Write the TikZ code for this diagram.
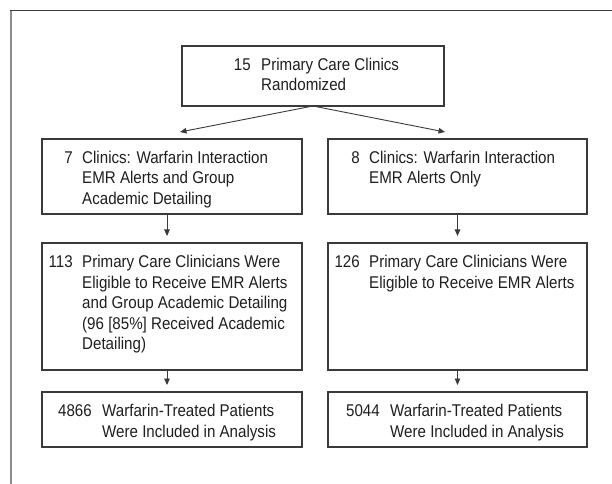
\documentclass[tikz,border=0pt]{standalone}
\usepackage{fontspec}
\setmainfont{Liberation Sans}[FakeStretch=0.89]
\usetikzlibrary{arrows.meta}
\definecolor{boxc}{HTML}{3A3A3A}
\definecolor{framegray}{HTML}{8C8C8C}
\newcommand{\lines}[1]{\begin{tabular}[t]{@{}l@{}}#1\end{tabular}}
\begin{document}
\begin{tikzpicture}[x=1bp,y=-1bp,
  box/.style={draw=boxc, line width=1.1bp, inner sep=0pt, outer sep=0pt},
  txt/.style={inner sep=0pt, anchor=base west, text=black!88, font=\fontsize{17bp}{20.5bp}\selectfont},
  num/.style={inner sep=0pt, anchor=base east, text=black!88, font=\fontsize{17bp}{20.5bp}\selectfont},
  arr/.style={draw=boxc, line width=0.9bp, -{Triangle[length=6.5bp,width=5.5bp]}}]
\useasboundingbox (0,0) rectangle (612,484);
\fill[white] (0,0) rectangle (612,484);
% frame (cropped)
\draw[framegray, line width=2bp] (11,10.5) -- (11,484);
\draw[boxc, line width=1.4bp] (10,10.5) -- (612,10.5);
% boxes
\node[box, minimum width=262bp, minimum height=60bp] (top) at (313,76) {};
\node[box, minimum width=260bp, minimum height=75bp] (L2) at (172,176.5) {};
\node[box, minimum width=259bp, minimum height=75bp] (R2) at (457.5,176.5) {};
\node[box, minimum width=260bp, minimum height=127bp] (L3) at (172,306.5) {};
\node[box, minimum width=259bp, minimum height=127bp] (R3) at (457.5,306.5) {};
\node[box, minimum width=260bp, minimum height=55bp] (L4) at (172,419.5) {};
\node[box, minimum width=259bp, minimum height=55bp] (R4) at (457.5,419.5) {};
% texts
\node[num] (topn) at (251,70.5) {15};
\node[txt] (topt) at (261,70.5) {\lines{Primary Care Clinics\\Randomized}};
\node[num] (L2n) at (73,163.5) {7};
\node[txt] (L2t) at (82,163.5) {\lines{Clinics: Warfarin Interaction\\EMR Alerts and Group\\Academic Detailing}};
\node[num] (R2n) at (360,163.5) {8};
\node[txt] (R2t) at (369,163.5) {\lines{Clinics: Warfarin Interaction\\EMR Alerts Only}};
\node[num] (L3n) at (73,267.5) {113};
\node[txt] (L3t) at (82,267.5) {\lines{Primary Care Clinicians Were\\Eligible to Receive EMR Alerts\\and Group Academic Detailing\\(96 [85\%] Received Academic\\Detailing)}};
\node[num] (R3n) at (360,267.5) {126};
\node[txt] (R3t) at (369,267.5) {\lines{Primary Care Clinicians Were\\Eligible to Receive EMR Alerts}};
\node[num] (L4n) at (92,416.5) {4866};
\node[txt] (L4t) at (102,416.5) {\lines{Warfarin-Treated Patients\\Were Included in Analysis}};
\node[num] (R4n) at (380,416.5) {5044};
\node[txt] (R4t) at (390,416.5) {\lines{Warfarin-Treated Patients\\Were Included in Analysis}};
% arrows
\coordinate (tl) at (180,132);
\coordinate (tr) at (445,132);
\draw[arr] (top.south) -- (tl);
\draw[arr] (top.south) -- (tr);
\draw[arr, shorten >=7bp] ([xshift=-5bp]L2.south) -- ([xshift=-5bp]L3.north);
\draw[arr, shorten >=7bp] (R2.south) -- (R3.north);
\draw[arr, shorten >=7bp] ([xshift=-5bp]L3.south) -- ([xshift=-5bp]L4.north);
\draw[arr, shorten >=7bp] (R3.south) -- (R4.north);
\end{tikzpicture}
\end{document}
